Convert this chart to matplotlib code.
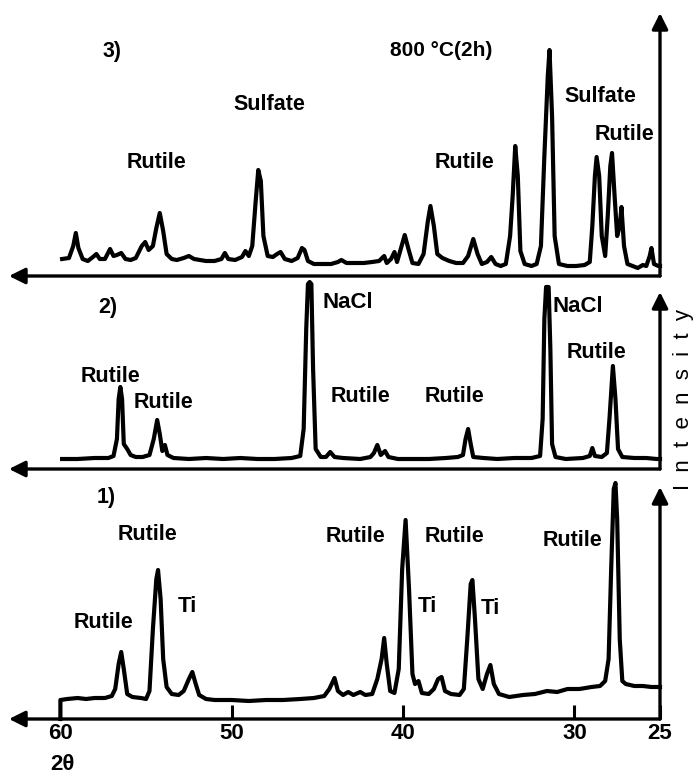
import numpy as np
import matplotlib
matplotlib.use("Agg")
import matplotlib.pyplot as plt

plt.rcParams['font.family'] = ['Liberation Sans', 'DejaVu Sans']

# ---- data (2theta, intensity in arb. units) ----
# 3) 800 C (2h)
two_theta_3 = [59.9, 59.5, 59.25, 59.1, 58.95, 58.7, 58.4, 58.1, 57.9, 57.7, 57.4, 57.1, 56.9,
               56.7, 56.45, 56.2, 55.9, 55.6, 55.25, 55.05, 54.85, 54.6, 54.4, 54.2, 54.0, 53.8,
               53.5, 53.2, 52.8, 52.5, 52.2, 51.5, 51.0, 50.6, 50.4, 50.2, 49.8, 49.4, 49.2, 49.0,
               48.8, 48.6, 48.45, 48.3, 48.15, 47.9, 47.6, 47.35, 47.15, 46.9, 46.5, 46.15, 45.9,
               45.75, 45.55, 45.2, 44.7, 44.2, 43.8, 43.6, 43.3, 42.8, 42.3, 41.8, 41.4, 41.1,
               40.95, 40.7, 40.5, 40.35, 40.15, 39.9, 39.7, 39.45, 39.1, 38.8, 38.55, 38.4, 38.2,
               38.0, 37.7, 37.3, 36.9, 36.5, 36.2, 35.9, 35.65, 35.4, 35.1, 34.85, 34.6, 34.3,
               34.0, 33.75, 33.6, 33.45, 33.3, 33.15, 32.9, 32.5, 32.2, 31.95, 31.75, 31.55,
               31.45, 31.3, 31.15, 30.9, 30.4, 29.9, 29.4, 29.1, 28.95, 28.8, 28.7, 28.55, 28.4,
               28.2, 28.05, 27.9, 27.8, 27.65, 27.5, 27.35, 27.25, 27.1, 26.9, 26.6, 26.3, 26.0,
               25.8, 25.6, 25.5, 25.35, 25.1, 25.0]
intensity_3 = [17, 18, 30, 43, 28, 17, 15, 19, 22, 17, 17, 27, 20,
               21, 23, 17, 16, 18, 30, 34, 26, 30, 48, 63, 45, 22,
               17, 16, 18, 20, 17, 15, 15, 17, 23, 17, 16, 19, 25, 20,
               30, 75, 106, 95, 40, 20, 19, 22, 24, 17, 15, 18, 28,
               26, 15, 12, 12, 12, 14, 16, 13, 13, 13, 14, 15, 20,
               13, 17, 24, 14, 26, 41, 28, 13, 12, 22, 55, 70, 50,
               22, 18, 15, 13, 13, 20, 37, 22, 12, 14, 19, 12, 10,
               12, 40, 80, 130, 100, 25, 12, 10, 12, 30, 120, 200,
               226, 160, 40, 12, 10, 10, 11, 14, 50, 100, 119, 100, 40,
               20, 60, 110, 123, 80, 40, 50, 69, 30, 12, 10, 8, 11,
               10, 20, 28, 12, 10, 10]

# 2)
two_theta_2 = [59.9, 59.0, 58.0, 57.2, 56.9, 56.7, 56.6, 56.5, 56.4, 56.3, 56.1, 55.9, 55.6,
               55.2, 54.8, 54.55, 54.35, 54.2, 54.05, 53.9, 53.75, 53.4, 52.5, 51.5, 50.5, 49.5,
               48.5, 47.5, 46.5, 46.0, 45.8, 45.65, 45.55, 45.45, 45.35, 45.25, 45.1, 44.8, 44.5,
               44.25, 44.0, 43.5, 42.5, 41.9, 41.7, 41.5, 41.3, 41.05, 40.85, 40.3, 39.5, 38.5,
               37.5, 36.8, 36.5, 36.35, 36.2, 36.05, 35.9, 35.3, 34.5, 33.5, 32.5, 32.0, 31.85,
               31.75, 31.65, 31.5, 31.4, 31.3, 31.1, 30.5, 29.5, 29.1, 28.95, 28.8, 28.4, 28.1,
               27.95, 27.75, 27.6, 27.45, 27.2, 26.5, 25.8, 25.2, 25.0]
intensity_2 = [10, 10, 11, 11, 13, 30, 70, 82, 70, 25, 20, 14, 12,
               12, 14, 30, 49, 35, 18, 24, 14, 11, 10, 11, 10, 11,
               10, 10, 11, 13, 40, 140, 185, 187, 185, 100, 20, 12, 12,
               17, 12, 11, 10, 12, 16, 24, 14, 18, 12, 10, 10, 10,
               11, 12, 14, 30, 40, 25, 12, 11, 10, 11, 11, 13, 50,
               150, 182, 182, 120, 25, 12, 10, 11, 13, 21, 13, 12, 16,
               50, 103, 70, 20, 12, 11, 11, 10, 10]

# 1)
two_theta_1 = [60.0, 60.0, 59.6, 59.0, 58.5, 58.0, 57.4, 57.0, 56.8, 56.6, 56.45, 56.3, 56.1,
               55.8, 55.3, 55.0, 54.8, 54.6, 54.4, 54.3, 54.15, 54.0, 53.8, 53.5, 53.1, 52.8,
               52.5, 52.3, 52.1, 51.9, 51.5, 51.0, 50.0, 49.0, 48.0, 47.0, 46.0, 45.2, 44.6,
               44.3, 44.0, 43.8, 43.5, 43.2, 42.9, 42.5, 42.2, 41.8, 41.5, 41.25, 41.1, 40.95,
               40.75, 40.5, 40.25, 40.05, 39.85, 39.65, 39.45, 39.3, 39.1, 38.9, 38.5, 38.2,
               37.95, 37.75, 37.55, 37.2, 36.7, 36.45, 36.25, 36.05, 35.95, 35.8, 35.6, 35.35,
               35.1, 34.9, 34.7, 34.4, 33.8, 33.0, 32.3, 31.6, 31.0, 30.4, 29.7, 29.0, 28.5,
               28.2, 28.0, 27.85, 27.7, 27.6, 27.5, 27.35, 27.2, 27.0, 26.5, 26.0, 25.5, 25.0]
intensity_1 = [0, 19, 20, 21, 20, 21, 21, 23, 30, 55, 67, 50, 25,
               22, 21, 20, 28, 90, 140, 149, 120, 60, 32, 25, 24, 28,
               40, 47, 35, 24, 20, 19, 19, 18, 19, 19, 20, 21, 23,
               30, 41, 28, 24, 27, 24, 27, 24, 25, 40, 60, 81, 55,
               28, 26, 50, 150, 199, 130, 45, 35, 38, 26, 25, 30,
               40, 42, 28, 25, 24, 30, 80, 135, 139, 100, 40, 30,
               45, 54, 35, 25, 22, 24, 25, 28, 27, 30, 30, 32, 33,
               38, 60, 150, 230, 236, 200, 80, 38, 35, 33, 33, 32, 32]

# peak labels: (text, 2theta, intensity)
labels_3 = [("3)", 57.0, 224), ("800 \u00b0C(2h)", 37.8, 226), ("Sulfate", 47.8, 171),
            ("Rutile", 54.4, 114), ("Rutile", 36.4, 113), ("Sulfate", 28.5, 179),
            ("Rutile", 27.1, 141)]
labels_2 = [("2)", 57.25, 161), ("Rutile", 57.1, 92), ("Rutile", 54.0, 67),
            ("NaCl", 43.2, 166), ("Rutile", 42.5, 73), ("Rutile", 37.0, 73),
            ("NaCl", 29.8, 162), ("Rutile", 28.7, 116)]
labels_1 = [("1)", 57.3, 221), ("Rutile", 54.9, 184), ("Rutile", 57.5, 96), ("Ti", 52.6, 112),
            ("Rutile", 42.8, 182), ("Rutile", 37.0, 182), ("Rutile", 30.1, 179),
            ("Ti", 38.6, 112), ("Ti", 34.9, 111)]

tick_values = [60, 50, 40, 30, 25]
tick_labels = ["60", "50", "40", "30", "25"]


W, H = 695, 780
fig = plt.figure(figsize=(W / 100, H / 100), dpi=100)


def make_panel(axis_y, top_y, tip_y):
    """axes whose y-units equal pixels above the baseline arrow"""
    ax = fig.add_axes([9 / W, (H - axis_y) / H, 651 / W, (axis_y - top_y) / H])
    ax.set_xlim(63.0, 25.0)
    ax.set_ylim(0, axis_y - top_y)
    ax.patch.set_alpha(0)
    for s in ax.spines.values():
        s.set_visible(False)
    ax.set_yticks([])
    ax.set_xticks([])
    # horizontal arrow pointing to higher 2theta
    ax.annotate("", xy=(63.0, 0), xytext=(25.0, 0), xycoords="data",
                arrowprops=dict(arrowstyle="-|>", lw=2.4, color="k", mutation_scale=24,
                                shrinkA=0, shrinkB=0), annotation_clip=False)
    # vertical intensity arrow
    ax.annotate("", xy=(25.0, axis_y - tip_y), xytext=(25.0, 0), xycoords="data",
                arrowprops=dict(arrowstyle="-|>", lw=2.4, color="k", mutation_scale=24,
                                shrinkA=0, shrinkB=0), annotation_clip=False)
    return ax


ax3 = make_panel(276, 5, 13)
ax2 = make_panel(469, 278, 292)
ax1 = make_panel(719, 480, 487)

for ax, tt, ii, labs in [(ax3, two_theta_3, intensity_3, labels_3),
                         (ax2, two_theta_2, intensity_2, labels_2),
                         (ax1, two_theta_1, intensity_1, labels_1)]:
    ax.plot(tt, ii, color="k", lw=3.0, solid_joinstyle="round", clip_on=False)
    for txt, x, y in labs:
        if txt in ("NaCl", "Ti"):
            fs = 16
        elif txt.startswith("800"):
            fs = 15
        else:
            fs = 15.5
        ax.text(x, y, txt, ha="center", va="center", fontsize=fs, fontweight="bold")

# bottom scale
ax1.set_xticks(tick_values)
ax1.set_xticklabels(tick_labels, fontsize=16, fontweight="bold")
ax1.tick_params(axis="x", direction="in", length=10, width=2.2, pad=3)
ax1.text(59.9, -46, "2\u03b8", ha="center", va="center", fontsize=16, fontweight="bold")

fig.text(683 / W, 1 - 400 / H, "I  n  t  e  n  s  i  t  y", rotation=90, ha="center",
         va="center", fontsize=16)

fig.savefig("out.png", dpi=100)
